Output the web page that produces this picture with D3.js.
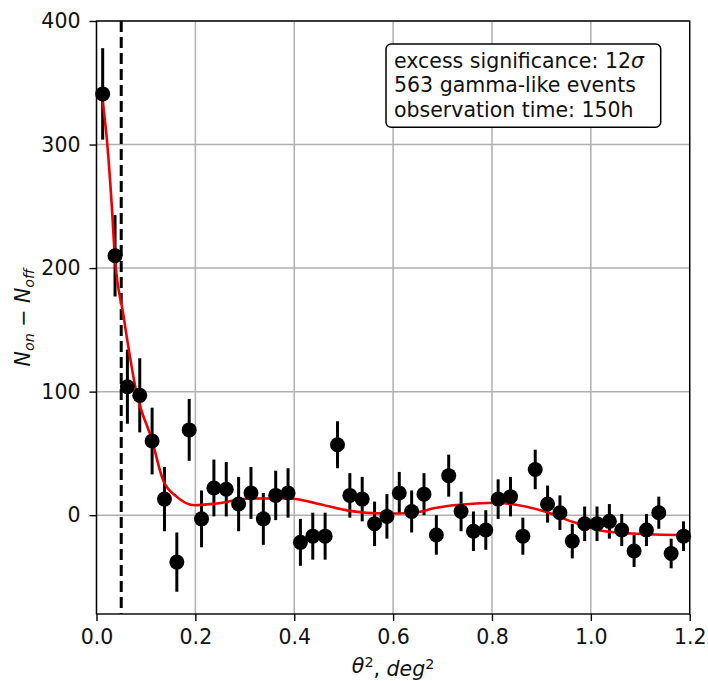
<!DOCTYPE html>
<html>
<head>
<meta charset="utf-8">
<script src="https://cdn.jsdelivr.net/npm/d3@7"></script>
<style>
  body { margin: 0; background: #fff; }
  svg { display: block; font-family: "DejaVu Sans", sans-serif; }
</style>
</head>
<body>
<div id="chart"></div>
<script>
// theta^2 bin centres (deg^2)
const binCenters = [
  0.0125, 0.0375, 0.0625, 0.0875, 0.1125, 0.1375, 0.1625, 0.1875,
  0.2125, 0.2375, 0.2625, 0.2875, 0.3125, 0.3375, 0.3625, 0.3875,
  0.4125, 0.4375, 0.4625, 0.4875, 0.5125, 0.5375, 0.5625, 0.5875,
  0.6125, 0.6375, 0.6625, 0.6875, 0.7125, 0.7375, 0.7625, 0.7875,
  0.8125, 0.8375, 0.8625, 0.8875, 0.9125, 0.9375, 0.9625, 0.9875,
  1.0125, 1.0375, 1.0625, 1.0875, 1.1125, 1.1375, 1.1625, 1.1875
];
// N_on - N_off per bin
const excess = [
  341, 210, 104, 97, 60, 13, -38, 69,
  -3, 22, 21, 9, 18, -3, 16, 18,
  -22, -17, -17, 57, 16, 13, -7, -1,
  18, 3, 17, -16, 32, 3, -13, -12,
  13, 15, -17, 37, 9, 2, -21, -7,
  -7, -5, -12, -29, -12, 2, -31, -17
];
const errors = [
  37, 33, 30, 30, 27, 26, 24, 25,
  23, 23, 22, 22, 21, 21, 20, 20,
  19, 19, 19, 19, 18, 18, 18, 18,
  17, 17, 17, 16, 17, 16, 16, 16,
  16, 16, 15, 16, 15, 14, 14, 14,
  14, 14, 13, 13, 13, 13, 12, 12
];
// fitted model
const fitX = [0.0125, 0.021, 0.031, 0.037, 0.054, 0.081, 0.112, 0.135, 0.162, 0.199,
  0.243, 0.31, 0.391, 0.445, 0.512, 0.579, 0.613, 0.654, 0.68, 0.768, 0.808, 0.842,
  0.909, 0.963, 1.017, 1.084, 1.192];
const fitY = [335, 304, 250, 210, 163, 99, 61, 28, 15, 8,
  9.5, 13.5, 13.5, 9.5, 3.5, 1.4, 1.4, 2.7, 5.4, 9.5, 10, 8.9,
  2.7, -5.4, -12.2, -14.9, -16.2];
const cutValue = 0.05;
const xTicks = [0, 0.2, 0.4, 0.6, 0.8, 1.0, 1.2];
const yTicks = [0, 100, 200, 300, 400];
const infoLines = ["excess significance: 12σ", "563 gamma-like events", "observation time: 150h"];

const width = 708, height = 681;
const margin = { top: 21, right: 18.3, bottom: 67, left: 96.5 };
const fontSize = 20.5;

const svg = d3.select("#chart").append("svg")
  .attr("width", width).attr("height", height);

const x = d3.scaleLinear().domain([0, 1.2]).range([margin.left, width - margin.right]);
const y = d3.scaleLinear().domain([-80, 400]).range([height - margin.bottom, margin.top]);

// grid
svg.append("g")
  .selectAll("line.vg")
  .data(xTicks)
  .join("line")
  .attr("x1", d => x(d)).attr("x2", d => x(d))
  .attr("y1", y.range()[1]).attr("y2", y.range()[0])
  .attr("stroke", "#b0b0b0").attr("stroke-width", 1.5);
svg.append("g")
  .selectAll("line.hg")
  .data(yTicks)
  .join("line")
  .attr("x1", x.range()[0]).attr("x2", x.range()[1])
  .attr("y1", d => y(d)).attr("y2", d => y(d))
  .attr("stroke", "#b0b0b0").attr("stroke-width", 1.5);

// cut line
svg.append("line")
  .attr("x1", x(cutValue)).attr("x2", x(cutValue))
  .attr("y1", y.range()[1]).attr("y2", y.range()[0])
  .attr("stroke", "#000").attr("stroke-width", 3)
  .attr("stroke-dasharray", "11 5");

const points = binCenters.map((b, i) => ({ x: b, y: excess[i], e: errors[i] }));

// error bars
svg.append("g")
  .selectAll("line")
  .data(points)
  .join("line")
  .attr("x1", d => x(d.x)).attr("x2", d => x(d.x))
  .attr("y1", d => y(d.y - d.e)).attr("y2", d => y(d.y + d.e))
  .attr("stroke", "#000").attr("stroke-width", 3);

// fit
const line = d3.line()
  .x(d => x(d[0]))
  .y(d => y(d[1]))
  .curve(d3.curveMonotoneX);
svg.append("path")
  .attr("d", line(fitX.map((v, i) => [v, fitY[i]])))
  .attr("fill", "none")
  .attr("stroke", "#ee0000")
  .attr("stroke-width", 2.6);

// markers
svg.append("g")
  .selectAll("circle")
  .data(points)
  .join("circle")
  .attr("cx", d => x(d.x))
  .attr("cy", d => y(d.y))
  .attr("r", 7.5)
  .attr("fill", "#000");

// axes
const xAxis = svg.append("g")
  .attr("transform", `translate(0,${y.range()[0]})`)
  .call(d3.axisBottom(x).tickValues(xTicks).tickFormat(d3.format(".1f"))
    .tickSize(7).tickPadding(8).tickSizeOuter(0));
const yAxis = svg.append("g")
  .attr("transform", `translate(${x.range()[0]},0)`)
  .call(d3.axisLeft(y).tickValues(yTicks).tickSize(7).tickPadding(9).tickSizeOuter(0));

[xAxis, yAxis].forEach(g => {
  g.select(".domain").remove();
  g.selectAll(".tick line").attr("stroke", "#000").attr("stroke-width", 1.4);
  g.selectAll(".tick text")
    .attr("fill", "#111")
    .style("font-family", "DejaVu Sans")
    .style("font-size", fontSize + "px");
});

// frame
svg.append("rect")
  .attr("x", x.range()[0]).attr("y", y.range()[1])
  .attr("width", x.range()[1] - x.range()[0])
  .attr("height", y.range()[0] - y.range()[1])
  .attr("fill", "none").attr("stroke", "#000").attr("stroke-width", 1.4);

// axis labels
const xl = svg.append("text")
  .attr("x", (x.range()[0] + x.range()[1]) / 2)
  .attr("y", 673)
  .attr("text-anchor", "middle")
  .attr("fill", "#111")
  .style("font-size", fontSize + "px");
xl.append("tspan").attr("font-style", "italic").text("θ");
xl.append("tspan").attr("font-size", "0.7em").attr("dy", "-0.45em").text("2");
xl.append("tspan").attr("dy", "0.45em").text(", ");
xl.append("tspan").attr("font-style", "italic").text("deg");
xl.append("tspan").attr("font-size", "0.7em").attr("dy", "-0.45em").text("2");

const yl = svg.append("text")
  .attr("transform", `translate(30,${(y.range()[0] + y.range()[1]) / 2}) rotate(-90)`)
  .attr("text-anchor", "middle")
  .attr("fill", "#111")
  .style("font-size", fontSize + "px");
yl.append("tspan").attr("font-style", "italic").text("N");
yl.append("tspan").attr("font-style", "italic").attr("font-size", "0.7em").attr("dy", "0.25em").text("on");
yl.append("tspan").attr("dy", "-0.18em").text(" − ");
yl.append("tspan").attr("font-style", "italic").text("N");
yl.append("tspan").attr("font-style", "italic").attr("font-size", "0.7em").attr("dy", "0.25em").text("off");

// info box
svg.append("rect")
  .attr("x", 386).attr("y", 44)
  .attr("width", 274.7).attr("height", 83.3)
  .attr("rx", 5)
  .attr("fill", "#fff").attr("stroke", "#000").attr("stroke-width", 1.5);
const info = svg.append("text")
  .attr("fill", "#111")
  .style("font-size", fontSize + "px");
info.selectAll("tspan")
  .data(infoLines)
  .join("tspan")
  .attr("x", 394)
  .attr("y", (d, i) => 68 + i * 24.4)
  .each(function (d) {
    const t = d3.select(this);
    if (d.endsWith("σ")) {
      t.text(d.slice(0, -1));
      t.append("tspan").attr("font-style", "italic").text("σ");
    } else {
      t.text(d);
    }
  });
</script>
</body>
</html>
